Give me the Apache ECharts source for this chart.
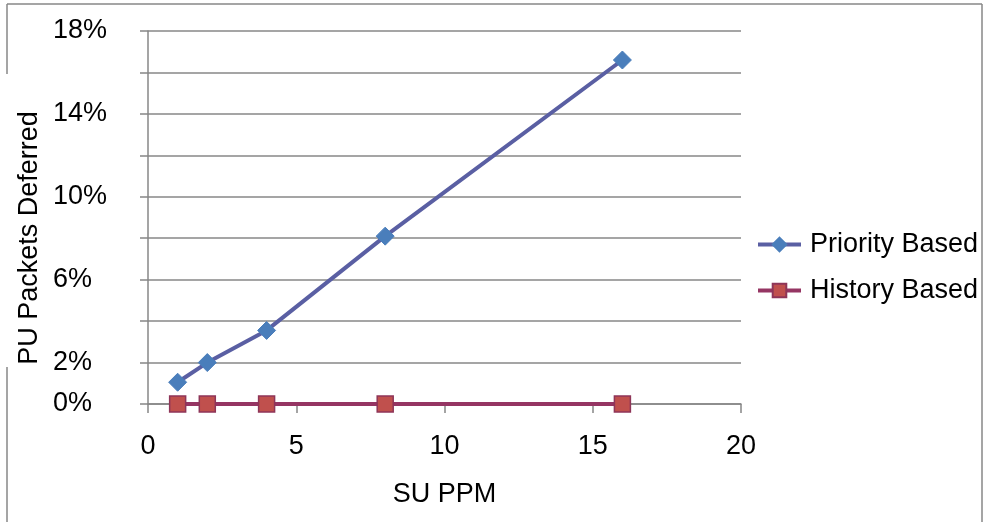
<!DOCTYPE html>
<html>
<head>
<meta charset="utf-8">
<script src="https://cdn.jsdelivr.net/npm/echarts@6/dist/echarts.min.js"></script>
<style>
  html, body { margin: 0; padding: 0; background: #ffffff; }
  #chart { width: 987px; height: 522px; }
</style>
</head>
<body>
<div id="chart"></div>
<script>
// SU packets per minute
const suPpm = [1, 2, 4, 8, 16];
// Share of PU packets deferred (%)
const priorityBased = [1.05, 2.0, 3.55, 8.1, 16.6];
const historyBased = [0, 0, 0, 0, 0];
// Percent values that carry a tick label
const yLabelValues = [0, 2, 6, 10, 14, 18];
const seriesNames = ['Priority Based', 'History Based'];

const FONT = 'Liberation Sans, Arial, sans-serif';
const FS = 27;
const GRAY = '#878787';

const pairs = (xs, ys) => xs.map((x, i) => [x, ys[i]]);

const chart = echarts.init(document.getElementById('chart'), null, { renderer: 'canvas' });

chart.setOption({
  backgroundColor: '#ffffff',
  animation: false,
  grid: { left: 148, right: 246, top: 31, bottom: 118, containLabel: false },
  xAxis: {
    type: 'value',
    min: 0, max: 20, interval: 5,
    name: 'SU PPM',
    nameLocation: 'middle',
    nameGap: 77,
    nameTextStyle: { color: '#000', fontFamily: FONT, fontSize: FS },
    axisLine: { show: true, lineStyle: { color: GRAY, width: 1.5 } },
    axisTick: { show: true, length: 9, lineStyle: { color: GRAY, width: 1.5 } },
    axisLabel: { color: '#000', fontFamily: FONT, fontSize: FS, margin: 29 },
    splitLine: { show: false }
  },
  yAxis: {
    type: 'value',
    min: 0, max: 18, interval: 2,
    axisLine: { show: true, lineStyle: { color: GRAY, width: 1.5 } },
    axisTick: { show: true, length: 8, lineStyle: { color: GRAY, width: 1.5 } },
    axisLabel: {
      color: '#000', fontFamily: FONT, fontSize: FS,
      align: 'left', margin: 95, padding: [7, 0, 0, 0],
      formatter: v => (yLabelValues.indexOf(Math.round(v)) >= 0 ? Math.round(v) + '%' : '')
    },
    splitLine: { show: true, lineStyle: { color: GRAY, width: 1.5 } }
  },
  legend: {
    orient: 'vertical',
    left: 751,
    top: 226,
    itemWidth: 43,
    itemHeight: 17,
    itemGap: 19,
    lineStyle: { width: 4 },
    textStyle: { color: '#000', fontFamily: FONT, fontSize: FS, padding: [0, 0, 0, 4] },
    data: seriesNames
  },
  graphic: [
    // outer frame
    { type: 'line', shape: { x1: 7, y1: 4, x2: 982, y2: 4 }, style: { stroke: GRAY, lineWidth: 1.5 } },
    { type: 'line', shape: { x1: 982, y1: 4, x2: 982, y2: 522 }, style: { stroke: GRAY, lineWidth: 1.5 } },
    { type: 'line', shape: { x1: 7, y1: 4, x2: 7, y2: 74 }, style: { stroke: GRAY, lineWidth: 1.5 } },
    { type: 'line', shape: { x1: 7, y1: 367, x2: 7, y2: 522 }, style: { stroke: GRAY, lineWidth: 1.5 } },
    // vertical axis title
    {
      type: 'text', x: 30, y: 238, rotation: Math.PI / 2,
      style: {
        text: 'PU Packets Deferred', fill: '#000',
        font: FS + 'px ' + FONT, align: 'center', verticalAlign: 'middle'
      }
    }
  ],
  series: [
    {
      name: seriesNames[0],
      type: 'line',
      data: pairs(suPpm, priorityBased),
      symbol: 'diamond',
      symbolSize: 18,
      lineStyle: { color: '#5a5fa3', width: 4 },
      itemStyle: { color: '#4a7ebb', borderColor: '#4a7ebb', borderWidth: 1 },
      z: 3
    },
    {
      name: seriesNames[1],
      type: 'line',
      data: pairs(suPpm, historyBased),
      symbol: 'rect',
      symbolSize: 16,
      lineStyle: { color: '#953563', width: 4 },
      itemStyle: { color: '#c0504d', borderColor: '#8e3558', borderWidth: 1.5 },
      z: 2
    }
  ]
});
</script>
</body>
</html>
